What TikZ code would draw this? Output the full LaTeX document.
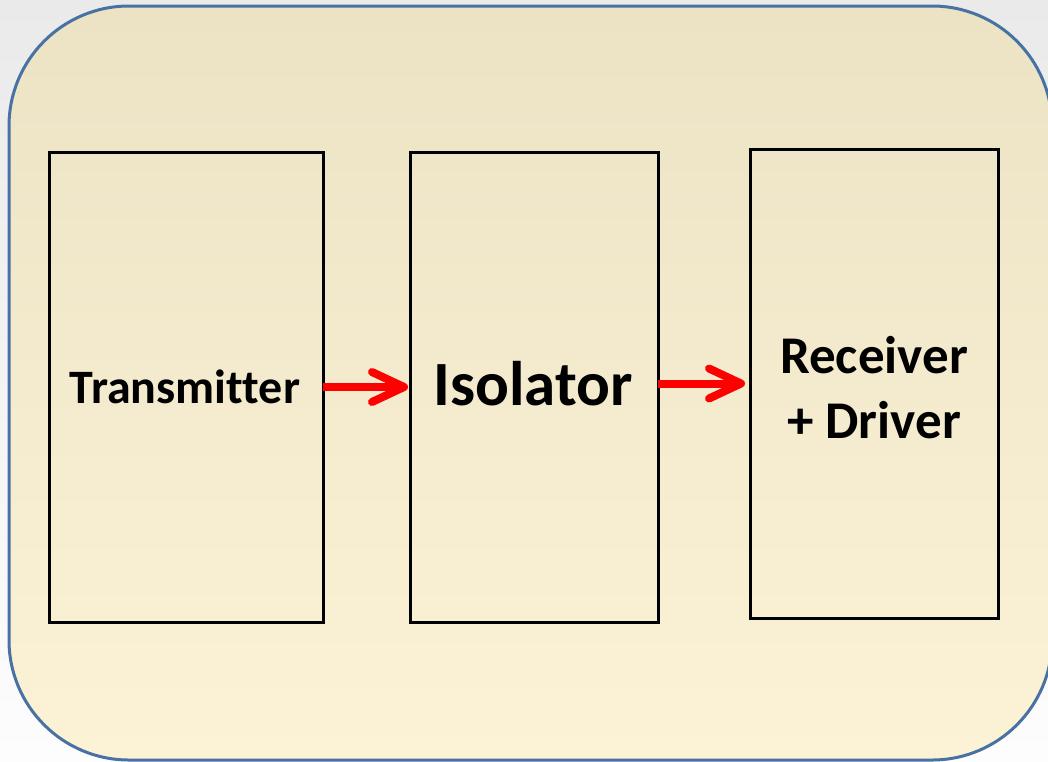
\documentclass[tikz,border=0pt]{standalone}
\usepackage{fontspec}
\setmainfont{Carlito}[Ligatures={NoCommon}]
\usetikzlibrary{arrows.meta}
\definecolor{bgtop}{HTML}{EAEAEA}
\definecolor{bgbot}{HTML}{FDFDFD}
\definecolor{crtop}{HTML}{ECE2C4}
\definecolor{crbot}{HTML}{FCF2D6}
\definecolor{frame}{HTML}{4872A4}
\begin{document}
\begin{tikzpicture}[x=1pt,y=-1pt,
  stagebox/.style={draw=black, line width=3pt, inner sep=0pt, outer sep=0pt, anchor=north west},
  flowarrow/.style={draw=red, line width=8pt, -{Straight Barb[length=32pt,width=30pt,round]}},
  lbl/.style={text=black, inner sep=0pt}]
\useasboundingbox (0,0) rectangle (1048,761);
\shade[top color=bgtop,bottom color=bgbot] (0,0) rectangle (1048,761);
\path[draw=frame, line width=3pt, top color=crtop, bottom color=crbot, rounded corners=120pt] (9,6) rectangle (1052,760);
\node[stagebox, minimum width=274pt, minimum height=470pt] (b1) at (49,152) {};
\node[stagebox, minimum width=248pt, minimum height=470pt] (b2) at (410,152) {};
\node[stagebox, minimum width=248pt, minimum height=469pt] (b3) at (750,149) {};
\node[lbl, font=\bfseries\fontsize{48}{57}\selectfont, anchor=base] (t1) at (185,403) {Transmitter};
\node[lbl, font=\bfseries\fontsize{63}{75}\selectfont, anchor=base] (t2) at (533,405) {Isolator};
\node[lbl, font=\bfseries\fontsize{53}{65}\selectfont, align=center, anchor=center] (t3) at (874,388) {Receiver\\+ Driver};
\draw[flowarrow] (b1.east) -- ([xshift=-2pt]b2.west);
\draw[flowarrow] (b2.east |- b3.west) -- ([xshift=-5pt]b3.west);
\end{tikzpicture}
\end{document}
